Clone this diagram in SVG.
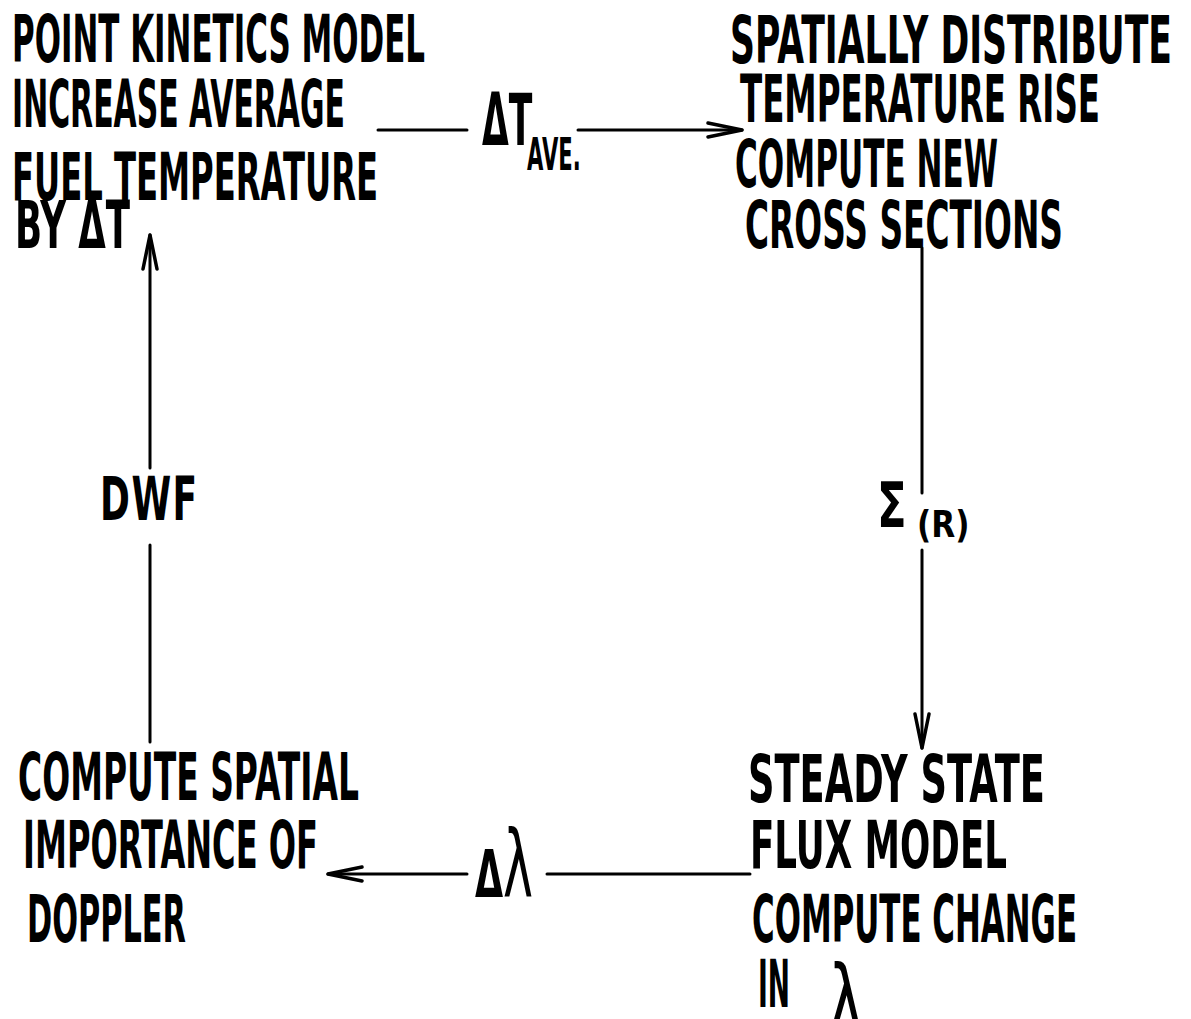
<svg xmlns="http://www.w3.org/2000/svg" width="1191" height="1019" viewBox="0 0 1191 1019">
<style>
  .t { font-family: "DejaVu Sans", "Liberation Sans", sans-serif; font-weight: bold; font-size: 66px; fill: #000; }
  .lbl { font-family: "DejaVu Sans", "Liberation Sans", sans-serif; font-weight: bold; fill: #000; }
  .greek { font-family: "DejaVu Sans", "Liberation Sans", sans-serif; font-weight: normal; fill: #000; }
  .ln { stroke: #000; stroke-width: 3; fill: none; stroke-linecap: round; }
</style>
<defs>
  <marker id="arr" viewBox="0 0 40 20" markerWidth="40" markerHeight="20" refX="38" refY="10" orient="auto" markerUnits="userSpaceOnUse">
    <path d="M4,3 L38,10 L4,17" fill="none" stroke="#000" stroke-width="3.5" stroke-linecap="round" stroke-linejoin="round"/>
  </marker>
</defs>
<rect width="1191" height="1019" fill="#fff"/>

<g id="node-point-kinetics">
  <g transform="scale(0.5 1)">
    <text class="t" x="24" y="62" textLength="826" lengthAdjust="spacingAndGlyphs">POINT KINETICS MODEL</text>
    <text class="t" x="24" y="127" textLength="666" lengthAdjust="spacingAndGlyphs">INCREASE AVERAGE</text>
    <text class="t" x="24" y="200" textLength="732" lengthAdjust="spacingAndGlyphs">FUEL TEMPERATURE</text>
    <text class="t" x="30" y="248" textLength="230" lengthAdjust="spacingAndGlyphs">BY ΔT</text>
  </g>
</g>

<g id="node-spatially-distribute">
  <g transform="scale(0.5 1)">
    <text class="t" x="1460" y="63" textLength="884" lengthAdjust="spacingAndGlyphs">SPATIALLY DISTRIBUTE</text>
    <text class="t" x="1480" y="122" textLength="720" lengthAdjust="spacingAndGlyphs">TEMPERATURE RISE</text>
    <text class="t" x="1470" y="187" textLength="526" lengthAdjust="spacingAndGlyphs">COMPUTE NEW</text>
    <text class="t" x="1490" y="248" textLength="636" lengthAdjust="spacingAndGlyphs">CROSS SECTIONS</text>
  </g>
</g>

<g id="node-steady-state">
  <g transform="scale(0.5 1)">
    <text class="t" x="1496" y="802" textLength="594" lengthAdjust="spacingAndGlyphs">STEADY STATE</text>
    <text class="t" x="1500" y="868" textLength="514" lengthAdjust="spacingAndGlyphs">FLUX MODEL</text>
    <text class="t" x="1504" y="942" textLength="650" lengthAdjust="spacingAndGlyphs">COMPUTE CHANGE</text>
    <text class="t" x="1516" y="1007" textLength="64" lengthAdjust="spacingAndGlyphs">IN</text>
  </g>
  <text class="greek" transform="translate(828 1034) scale(0.62 1)" x="0" y="0" font-size="96">λ</text>
</g>

<g id="node-spatial-importance">
  <g transform="scale(0.5 1)">
    <text class="t" x="36" y="800" textLength="682" lengthAdjust="spacingAndGlyphs">COMPUTE SPATIAL</text>
    <text class="t" x="46" y="868" textLength="590" lengthAdjust="spacingAndGlyphs">IMPORTANCE OF</text>
    <text class="t" x="54" y="942" textLength="318" lengthAdjust="spacingAndGlyphs">DOPPLER</text>
  </g>
</g>

<g id="connectors">
  <line class="ln" x1="378" y1="130" x2="467" y2="130"/>
  <line class="ln" x1="578" y1="130" x2="742" y2="130" marker-end="url(#arr)"/>
  <line class="ln" x1="922" y1="248" x2="922" y2="493"/>
  <line class="ln" x1="922" y1="550" x2="922" y2="748" marker-end="url(#arr)"/>
  <line class="ln" x1="750" y1="874" x2="547" y2="874"/>
  <line class="ln" x1="467" y1="874" x2="328" y2="874" marker-end="url(#arr)"/>
  <line class="ln" x1="150" y1="742" x2="150" y2="545"/>
  <line class="ln" x1="150" y1="468" x2="150" y2="235" marker-end="url(#arr)"/>
</g>

<g id="edge-labels">
  <text class="lbl" transform="translate(482 145) scale(0.48 1)" x="0" y="0" font-size="72">ΔT<tspan x="94" dy="25" font-size="44">AVE.</tspan></text>
  <text class="lbl" transform="translate(877 527) scale(0.7 1)" x="0" y="0" font-size="62">Σ</text>
  <text class="lbl" transform="translate(917 537) scale(0.82 1)" x="0" y="0" font-size="38">(R)</text>
  <text class="lbl" transform="translate(100 520) scale(0.6 1)" x="0" y="0" font-size="60" textLength="162" lengthAdjust="spacing">DWF</text>
  <text class="lbl" transform="translate(475 897) scale(0.55 1)" x="0" y="0" font-size="66">Δ<tspan class="greek" font-size="92">λ</tspan></text>
</g>
</svg>
